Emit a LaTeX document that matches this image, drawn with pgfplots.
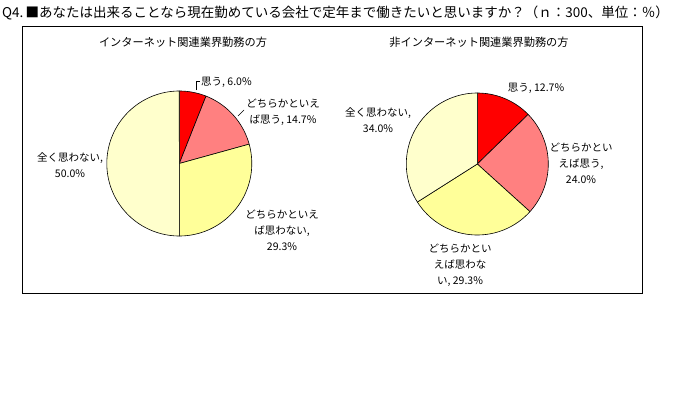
\documentclass[border=0pt]{standalone}
\usepackage{pgfplots}
\pgfplotsset{compat=1.18}
\usepackage{fontspec}
\setmainfont{Noto Sans CJK JP}
\definecolor{pieRed}{HTML}{FF0000}
\definecolor{pieSalmon}{HTML}{FF8080}
\definecolor{pieYellow}{HTML}{FFFF99}
\definecolor{pieCream}{HTML}{FFFFCC}
\begin{document}
\begin{tikzpicture}[x=1pt,y=1pt]
\path[use as bounding box] (0,0) rectangle (689,392);
% frame
\draw[line width=1pt] (22,99) rectangle (642,365);
% title
\node[anchor=west, inner sep=0pt, font=\fontsize{13.5}{16}\selectfont] at (2,379)
  {Q4.\,■あなたは出来ることなら現在勤めている会社で定年まで働きたいと思いますか？（ｎ：300、単位：％）};
% subtitles
\node[inner sep=0pt, font=\fontsize{11.2}{13}\selectfont] at (183,350) {インターネット関連業界勤務の方};
\node[inner sep=0pt, font=\fontsize{11.2}{13}\selectfont] at (479,350) {非インターネット関連業界勤務の方};

% left pie: 思う 6.0, どちらかといえば思う 14.7, どちらかといえば思わない 29.3, 全く思わない 50.0
\begin{axis}[at={(179.3pt,228.5pt)}, anchor=center, scale only axis,
  width=145pt, height=145pt, xmin=-1, xmax=1, ymin=-1, ymax=1,
  hide axis, clip=false]
\addplot[draw=black, line width=0.6pt, line join=round, fill=pieRed, domain=0:6.0, samples=30, variable=\t]
  ({sin(3.6*\t)},{cos(3.6*\t)}) -- (axis cs:0,0) -- cycle;
\addplot[draw=black, line width=0.6pt, line join=round, fill=pieSalmon, domain=6.0:20.7, samples=40, variable=\t]
  ({sin(3.6*\t)},{cos(3.6*\t)}) -- (axis cs:0,0) -- cycle;
\addplot[draw=black, line width=0.6pt, line join=round, fill=pieYellow, domain=20.7:50.0, samples=60, variable=\t]
  ({sin(3.6*\t)},{cos(3.6*\t)}) -- (axis cs:0,0) -- cycle;
\addplot[draw=black, line width=0.6pt, line join=round, fill=pieCream, domain=50.0:100.0, samples=90, variable=\t]
  ({sin(3.6*\t)},{cos(3.6*\t)}) -- (axis cs:0,0) -- cycle;
\end{axis}

% right pie: 思う 12.7, どちらかといえば思う 24.0, どちらかといえば思わない 29.3, 全く思わない 34.0
\begin{axis}[at={(477.3pt,228pt)}, anchor=center, scale only axis,
  width=142pt, height=142pt, xmin=-1, xmax=1, ymin=-1, ymax=1,
  hide axis, clip=false]
\addplot[draw=black, line width=0.6pt, line join=round, fill=pieRed, domain=0:12.7, samples=30, variable=\t]
  ({sin(3.6*\t)},{cos(3.6*\t)}) -- (axis cs:0,0) -- cycle;
\addplot[draw=black, line width=0.6pt, line join=round, fill=pieSalmon, domain=12.7:36.7, samples=50, variable=\t]
  ({sin(3.6*\t)},{cos(3.6*\t)}) -- (axis cs:0,0) -- cycle;
\addplot[draw=black, line width=0.6pt, line join=round, fill=pieYellow, domain=36.7:66.0, samples=60, variable=\t]
  ({sin(3.6*\t)},{cos(3.6*\t)}) -- (axis cs:0,0) -- cycle;
\addplot[draw=black, line width=0.6pt, line join=round, fill=pieCream, domain=66.0:100.0, samples=70, variable=\t]
  ({sin(3.6*\t)},{cos(3.6*\t)}) -- (axis cs:0,0) -- cycle;
\end{axis}

% labels
\begin{scope}[every node/.style={inner sep=0pt, align=center, font=\fontsize{10.5}{16}\selectfont}]
\node[anchor=west] at (201,310) {思う, 6.0\%};
\node at (283,279.5) {どちらかといえ\\ば思う, 14.7\%};
\node at (70,227) {全く思わない,\\50.0\%};
\node at (282,162) {どちらかといえ\\ば思わない,\\29.3\%};
\node at (536,304) {思う, 12.7\%};
\node at (581,228.5) {どちらかとい\\えば思う,\\24.0\%};
\node at (378,271.5) {全く思わない,\\34.0\%};
\node at (460,127) {どちらかとい\\えば思わな\\い, 29.3\%};
\end{scope}
% leader lines
\draw[line width=0.5pt] (196,302) -- (196,311) -- (199.5,311);
\draw[line width=0.5pt] (238,276) -- (244,282);
\end{tikzpicture}
\end{document}
